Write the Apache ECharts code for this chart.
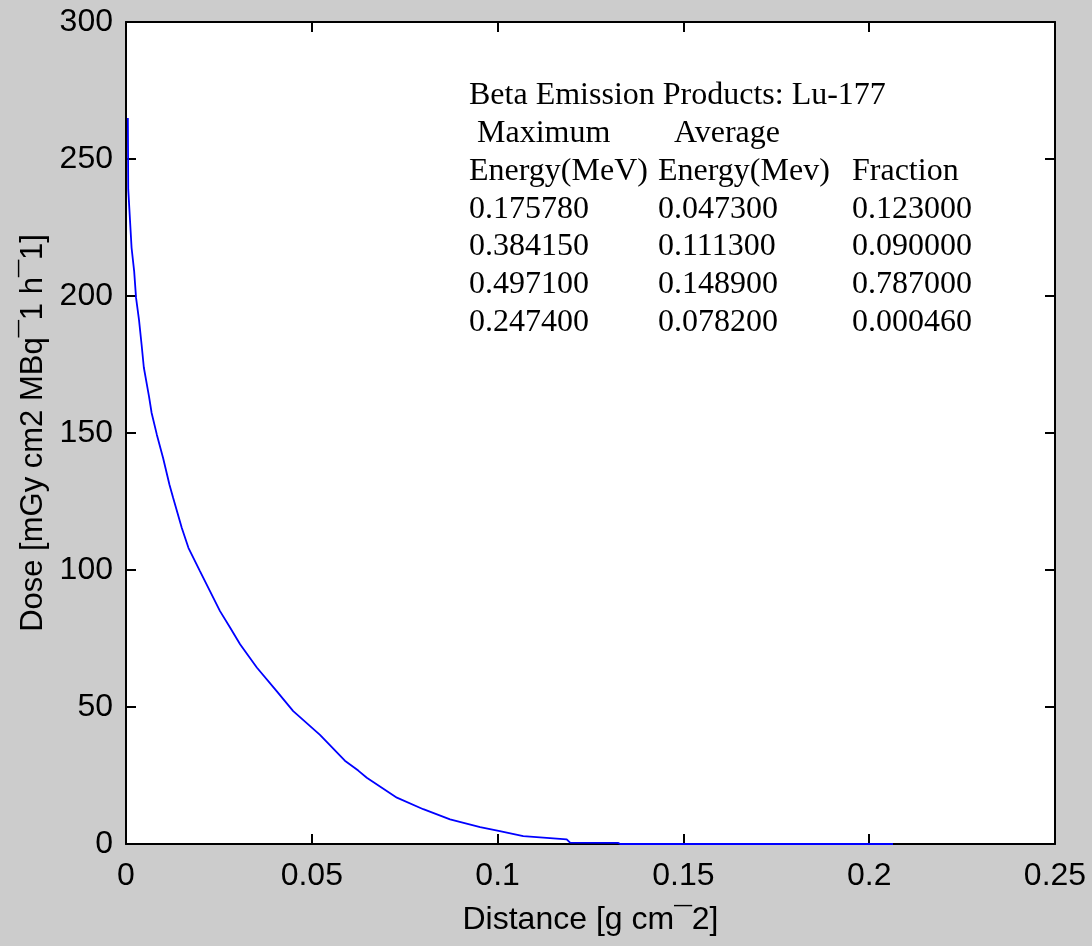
<!DOCTYPE html>
<html>
<head>
<meta charset="utf-8">
<script src="https://cdn.jsdelivr.net/npm/echarts@6/dist/echarts.min.js"></script>
<style>
  html, body { margin: 0; padding: 0; background: #cccccc; }
  #chart { width: 1092px; height: 946px; }
</style>
</head>
<body>
<div id="chart"></div>
<script>
// depth dose curve
const distance = [0.0005, 0.0006, 0.0015, 0.0022, 0.0027, 0.0035, 0.0042, 0.0048, 0.0062,
  0.0069, 0.0083, 0.0100, 0.0117, 0.0127, 0.0150, 0.0168, 0.0199, 0.0226,
  0.0253, 0.0280, 0.0307, 0.0352, 0.0406, 0.0450,
  0.0522, 0.0589, 0.0625, 0.0648, 0.0729, 0.0800, 0.0872, 0.0953, 0.1006, 0.1069,
  0.1186, 0.1195, 0.1324, 0.1330, 0.2064];
const dose = [265, 239, 217.6, 209, 199.4, 191.3, 182.2, 173.9, 163.3,
  157.3, 149.4, 140.8, 131.1, 126.3, 115.4, 108.1, 99.6, 92.3,
  85, 79, 72.9, 64.4, 55.7, 48.5,
  39.8, 30.4, 26.8, 24.2, 16.9, 12.7, 9.0, 6.2, 4.7, 2.9,
  1.7, 0.5, 0.4, 0, 0];

// annotation table
const tableTitle = 'Beta Emission Products: Lu-177';
const headerTop = [' Maximum', '  Average', ''];
const headerBottom = ['Energy(MeV)', 'Energy(Mev)', 'Fraction'];
const maxEnergy = ['0.175780', '0.384150', '0.497100', '0.247400'];
const avgEnergy = ['0.047300', '0.111300', '0.148900', '0.078200'];
const fraction = ['0.123000', '0.090000', '0.787000', '0.000460'];

const xTicks = { min: 0, max: 0.25, interval: 0.05 };
const yTicks = { min: 0, max: 300, interval: 50 };

const chart = echarts.init(document.getElementById('chart'));

const sansFont = '"Liberation Sans", Arial, sans-serif';
const serifFont = '"Liberation Serif", "Times New Roman", serif';

function boxAxis(showLabel, margin) {
  return {
    axisLine: { show: true, onZero: false, lineStyle: { color: '#000', width: 2 } },
    axisTick: { show: true, inside: true, length: 10, lineStyle: { color: '#000', width: 2 } },
    axisLabel: { show: showLabel, margin: margin, color: '#000', fontSize: 32, fontFamily: sansFont },
    splitLine: { show: false }
  };
}

// table as graphic text, one row per line
const colX = [469, 658, 852];
const rowY0 = 96;
const rowStep = 37.7;
const rows = [[tableTitle, '', ''], headerTop, headerBottom];
for (let i = 0; i < maxEnergy.length; i++) {
  rows.push([maxEnergy[i], avgEnergy[i], fraction[i]]);
}
const tableGraphics = [];
rows.forEach((row, r) => {
  row.forEach((txt, c) => {
    if (!txt) return;
    tableGraphics.push({
      type: 'text',
      x: colX[c],
      y: rowY0 + r * rowStep,
      z: 100,
      style: {
        text: txt,
        fill: '#000',
        font: '32px ' + serifFont,
        verticalAlign: 'middle',
        align: 'left'
      }
    });
  });
});

const option = {
  backgroundColor: '#cccccc',
  animation: false,
  grid: {
    left: 126, right: 37, top: 22, bottom: 102,
    show: true, backgroundColor: '#ffffff', borderColor: '#000', borderWidth: 0
  },
  xAxis: [
    Object.assign(boxAxis(true, 16), {
      type: 'value', position: 'bottom',
      min: xTicks.min, max: xTicks.max, interval: xTicks.interval,
      name: 'Distance [g cm\u00AF2]', nameLocation: 'middle', nameGap: 60,
      nameTextStyle: { color: '#000', fontSize: 32, fontFamily: sansFont }
    }),
    Object.assign(boxAxis(false, 8), {
      type: 'value', position: 'top',
      min: xTicks.min, max: xTicks.max, interval: xTicks.interval
    })
  ],
  yAxis: [
    Object.assign(boxAxis(true, 13), {
      type: 'value', position: 'left',
      min: yTicks.min, max: yTicks.max, interval: yTicks.interval,
      name: 'Dose [mGy cm2 MBq\u00AF1 h\u00AF1]', nameLocation: 'middle', nameGap: 76,
      nameRotate: 90,
      nameTextStyle: { color: '#000', fontSize: 31, fontFamily: sansFont }
    }),
    Object.assign(boxAxis(false, 8), {
      type: 'value', position: 'right',
      min: yTicks.min, max: yTicks.max, interval: yTicks.interval
    })
  ],
  series: [{
    type: 'line',
    data: distance.map((d, i) => [d, dose[i]]),
    showSymbol: false,
    lineStyle: { color: '#0000ff', width: 1.8 },
    itemStyle: { color: '#0000ff' },
    clip: true
  }],
  graphic: tableGraphics
};

chart.setOption(option);
</script>
</body>
</html>
